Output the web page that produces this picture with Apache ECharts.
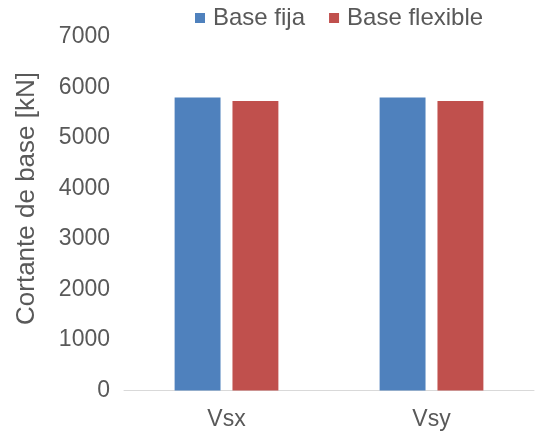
<!DOCTYPE html>
<html><head><meta charset="utf-8">
<script src="https://cdn.jsdelivr.net/npm/echarts@6/dist/echarts.min.js"></script>
<style>html,body{margin:0;padding:0;background:#fff}#c{width:548px;height:433px}</style>
</head><body><div id="c"></div>
<script>
const categories = ['Vsx', 'Vsy'];
const baseFija = [5800, 5800];
const baseFlexible = [5735, 5735];
const yTicks = [0, 1000, 2000, 3000, 4000, 5000, 6000, 7000];
const yTitle = 'Cortante de base [kN]';

const font = 'Liberation Sans, Arial, sans-serif';
const chart = echarts.init(document.getElementById('c'));
chart.setOption({
  animation: false,
  textStyle: { fontFamily: font },
  legend: {
    top: 1, left: 190,
    itemWidth: 10, itemHeight: 10, itemGap: 24,
    icon: 'rect',
    textStyle: { fontSize: 24, color: '#595959', fontFamily: font, padding: [0, 0, 0, 3] },
    data: ['Base fija', 'Base flexible']
  },
  grid: { left: 124, right: 14, top: 37, bottom: 42.5, containLabel: false },
  graphic: [{
    type: 'text', x: 27, y: 198.5, rotation: Math.PI / 2,
    style: { text: yTitle, fontSize: 26, fill: '#595959', fontFamily: font,
             textAlign: 'center', textVerticalAlign: 'middle' }
  }],
  xAxis: {
    type: 'category', data: categories,
    axisLine: { lineStyle: { color: '#D9D9D9', width: 1 } },
    axisTick: { show: false },
    axisLabel: { fontSize: 23, color: '#595959', margin: 18, fontFamily: font }
  },
  yAxis: {
    type: 'value', min: yTicks[0], max: yTicks[yTicks.length - 1], interval: 1000,
    axisLine: { show: false }, axisTick: { show: false },
    splitLine: { show: false },
    axisLabel: { fontSize: 23, color: '#595959', margin: 14, fontFamily: font,
                 formatter: v => String(v) }
  },
  series: [
    { name: 'Base fija', type: 'bar', data: baseFija, barWidth: '22.4%', barGap: '26%',
      itemStyle: { color: '#4F81BD' } },
    { name: 'Base flexible', type: 'bar', data: baseFlexible, barWidth: '22.4%',
      itemStyle: { color: '#C0504D' } }
  ]
});
</script></body></html>
